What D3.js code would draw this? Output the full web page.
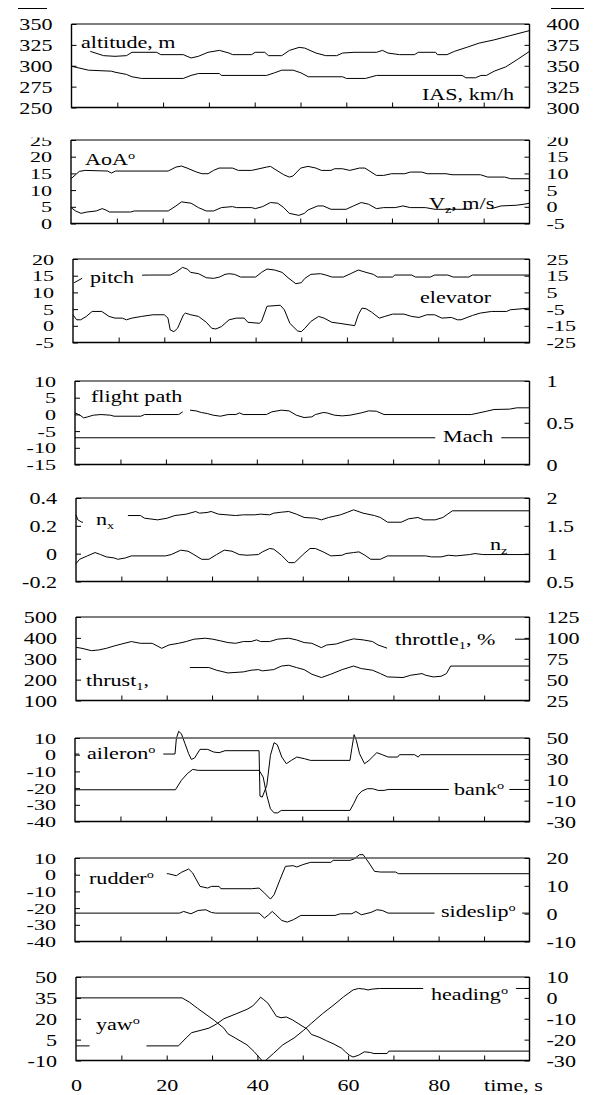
<!DOCTYPE html>
<html>
<head>
<meta charset="utf-8">
<script src="https://cdn.jsdelivr.net/npm/d3@7"></script>
<style>
  body { margin: 0; background: #fff; }
  svg { display: block; }
  text { font-family: "Liberation Serif", "Times New Roman", serif; fill: #000; }
</style>
</head>
<body>
<svg id="chart" width="594" height="1095"></svg>
<script>
// ---- time axis ----
const timeLabels = [0, 20, 40, 60, 80];
const timeMinor = [10, 20, 30, 40, 50, 60, 70, 80, 90];

// ---- axis tick values, per panel (left / right) ----
const altTicks = [250, 275, 300, 325, 350];
const iasTicks = [300, 325, 350, 375, 400];
const aoaTicks = [0, 5, 10, 15, 20, 25];
const vzTicks = [-5, 0, 5, 10, 15, 20];
const pitchTicks = [-5, 0, 5, 10, 15, 20];
const elevTicks = [-25, -15, -5, 5, 15, 25];
const pathTicks = [-15, -10, -5, 0, 5, 10];
const machTicks = [0, 0.5, 1];
const nxTicks = [-0.2, 0, 0.2, 0.4];
const nzTicks = [0.5, 1, 1.5, 2];
const thrustTicks = [100, 200, 300, 400, 500];
const throttleTicks = [25, 50, 75, 100, 125];
const aileronTicks = [-40, -30, -20, -10, 0, 10];
const bankTicks = [-30, -10, 10, 30, 50];
const rudderTicks = [-40, -30, -20, -10, 0, 10];
const sideslipTicks = [-10, 0, 10, 20];
const yawTicks = [-10, 5, 20, 35, 50];
const headingTicks = [-30, -20, -10, 0, 10];

// ---- recorded series: [time s, value] ----
const altitude = [[4.1,317.2],[7.0,312.1],[9.5,311.3],[12.0,312.1],[13.2,316.1],[18.6,316.1],[19.5,313.3],[24.4,313.3],[26.1,309.3],[27.7,311.3],[29.8,316.1],[32.3,318.4],[34.4,315.2],[35.2,313.3],[39.3,313.3],[40.1,316.1],[42.2,316.1],[43.0,312.1],[45.9,312.1],[47.6,318.4],[49.7,322.0],[50.9,321.2],[53.4,315.2],[55.5,312.1],[57.9,312.1],[59.2,315.2],[61.7,316.1],[66.6,316.1],[67.9,318.4],[69.1,315.2],[71.6,313.3],[74.9,313.3],[75.7,316.1],[79.5,316.1],[79.9,313.3],[82.0,313.3],[83.6,317.2],[86.5,322.4],[89.0,327.1],[92.3,331.0],[95.6,335.8],[100,342.1]];
const ias = [[0,349.4],[3.7,344.7],[8.7,343.5],[9.5,342.3],[12.0,339.6],[13.2,336.8],[15.3,334.8],[24.4,334.8],[26.1,338.4],[27.7,340.7],[32.3,340.7],[32.7,338.4],[42.6,338.4],[44.3,341.5],[45.9,344.7],[48.4,344.7],[50.1,341.5],[51.7,336.8],[59.2,336.8],[60.0,334.8],[64.2,334.8],[66.6,338.4],[85.3,338.4],[86.1,335.6],[88.2,335.6],[89.4,338.4],[90.6,338.4],[92.3,343.5],[94.8,348.6],[97.3,357.3],[100,367.2]];

const aoa = [[0,13.4],[1.0,14.6],[1.8,15.6],[3.1,15.9],[8.0,15.7],[8.8,15.1],[9.7,15.7],[21.2,15.7],[22.9,16.9],[24.1,17.2],[25.3,16.6],[27.4,15.4],[28.6,14.9],[29.9,14.9],[31.1,15.9],[32.3,16.6],[35.2,16.6],[36.5,15.9],[39.4,15.9],[42.7,16.9],[43.5,17.1],[44.3,16.4],[46.4,14.6],[47.6,13.9],[48.4,14.2],[50.1,16.6],[51.7,17.1],[53.4,16.6],[54.6,15.9],[56.7,15.9],[57.5,16.4],[59.2,16.4],[60.8,15.9],[62.9,16.6],[64.1,16.6],[66.6,14.4],[68.2,14.4],[69.9,14.9],[72.8,14.9],[74.0,15.4],[76.5,15.4],[77.7,14.9],[81.8,14.9],[83.1,14.6],[89.3,14.6],[90.9,13.9],[94.6,13.9],[95.9,13.4],[100,13.4]];
const vz = [[0,-0.24],[1.0,-1.25],[2.2,-1.96],[3.5,-1.56],[5.5,-1.25],[6.8,-0.55],[7.6,-0.95],[8.4,-1.56],[13.0,-1.56],[13.8,-1.25],[21.2,-1.25],[22.9,0.26],[24.1,1.48],[26.2,1.07],[27.8,-0.24],[29.5,-1.25],[31.1,-1.25],[32.8,-0.24],[35.2,0.06],[36.1,-0.24],[39.4,-0.24],[40.2,-0.55],[41.8,0.06],[43.5,1.28],[45.1,1.07],[46.4,-0.24],[47.6,-1.96],[49.7,-2.57],[50.9,-1.96],[51.7,-0.95],[53.8,0.26],[55.0,0.26],[56.7,-0.75],[60.0,-0.75],[61.6,0.26],[63.3,1.28],[64.9,0.77],[66.6,-0.55],[68.2,-0.24],[70.7,-0.24],[72.4,0.26],[74.0,-0.24],[77.3,-0.24],[79.4,-0.75],[87.2,-0.75],[89.5,null],[91.7,-0.55],[93.8,0.26],[97.1,0.46],[98.8,0.77],[100,1.07]];

const pitch = [[0.25,12.9],[2.9,14.9],[16.7,15.2],[21.3,15.2],[22.5,16.0],[24.0,17.5],[25.0,17.0],[25.8,16.0],[27.5,15.6],[29.2,14.4],[30.8,14.2],[32.1,14.6],[33.3,15.4],[34.2,15.6],[35.4,15.4],[36.7,14.6],[40.0,14.6],[41.3,16.0],[42.5,17.0],[44.2,16.7],[45.8,16.0],[47.1,14.4],[48.8,12.6],[50.0,12.9],[50.8,14.2],[52.1,15.4],[54.2,15.6],[55.4,15.2],[56.7,14.6],[59.2,14.6],[60.8,15.6],[62.5,16.7],[64.2,16.0],[65.8,15.4],[66.7,14.6],[70.0,14.6],[70.5,15.2],[74.2,15.2],[75.0,14.6],[78.3,14.6],[79.2,15.2],[82.1,15.2],[83.3,14.6],[86.7,14.6],[87.5,15.2],[100,15.2]];
const elevator = [[0,-8.4],[0.8,-11.4],[1.7,-11.4],[2.9,-9.4],[4.2,-6.4],[6.3,-6.4],[7.9,-9.4],[9.2,-10.4],[10.8,-10.4],[11.7,-11.4],[12.9,-10.4],[15.0,-9.4],[17.5,-8.4],[20.0,-8.4],[20.8,-10.4],[21.3,-17.5],[22.1,-18.5],[22.9,-16.5],[24.2,-8.4],[24.6,-7.4],[25.8,-8.4],[27.5,-9.4],[29.2,-12.9],[30.4,-16.5],[31.3,-16.9],[32.5,-15.5],[34.2,-11.4],[35.8,-10.4],[37.5,-10.4],[38.3,-12.9],[40.8,-13.5],[41.3,-12.4],[42.5,-3.3],[45.4,-2.7],[46.3,-5.4],[47.5,-13.5],[49.2,-18.1],[50.0,-18.5],[50.8,-16.5],[52.1,-12.4],[53.8,-9.4],[55.0,-10.4],[56.7,-12.9],[58.3,-13.5],[61.7,-14.9],[62.5,-8.4],[63.3,-4.4],[64.2,-4.8],[65.4,-6.8],[67.1,-10.4],[68.3,-9.4],[70.0,-8.0],[72.5,-8.0],[74.2,-9.4],[75.8,-10.0],[77.5,-8.4],[79.2,-8.4],[80.8,-10.4],[82.9,-10.0],[84.2,-11.4],[85.0,-11.4],[87.5,-8.8],[89.2,-7.4],[91.7,-6.4],[95.0,-6.4],[95.8,-5.4],[100,-4.4]];

const flightPath = [[0,0.46],[1.1,-0.24],[1.9,-1.04],[2.8,-0.74],[4.0,-0.24],[5.7,-0.04],[7.8,-0.24],[8.6,-0.54],[14.5,-0.54],[15.3,-0.04],[22.8,-0.04],[23.7,0.76],[24.5,null],[25.3,1.27],[26.6,1.06],[27.8,0.56],[29.1,0.26],[30.4,-0.24],[32.0,-0.54],[33.7,-0.04],[35.4,-0.04],[36.2,0.46],[37.0,-0.04],[42.1,-0.04],[43.3,0.76],[45.4,1.27],[47.1,1.06],[48.7,-0.24],[50.4,-0.94],[52.1,-0.74],[52.9,-0.04],[54.6,0.56],[55.4,0.46],[57.1,-0.24],[58.8,-0.44],[60.5,-0.24],[63.0,0.46],[64.6,1.06],[66.3,0.96],[68.0,-0.04],[87.2,-0.04],[88.9,0.46],[90.6,0.96],[92.2,1.47],[95.6,1.57],[97.2,1.97],[100,1.97]];
const mach = [[0,0.32],[100,0.32]];

const nx = [[0,0.279],[0.4,0.243],[1.3,0.226],[2.9,0.226],[10.1,0.260],[10.9,0.274],[14.2,0.274],[15.1,0.255],[18.0,0.243],[20.1,0.255],[21.8,0.274],[24.3,0.284],[26.4,0.303],[27.2,0.291],[28.9,0.296],[29.8,0.303],[31.4,0.284],[35.2,0.274],[36.9,0.279],[39.4,0.279],[40.7,0.284],[42.7,0.279],[43.6,0.291],[45.3,0.298],[46.9,0.303],[48.6,0.284],[50.3,0.260],[52.8,0.255],[54.1,0.243],[55.7,0.260],[58.3,0.279],[59.9,0.298],[61.2,0.315],[63.3,0.291],[65.8,0.274],[67.1,0.260],[68.7,0.226],[71.7,0.226],[73.3,0.250],[75.4,0.260],[76.7,0.243],[79.2,0.243],[80.9,0.260],[83.0,0.308],[100,0.308]];
const nz = [[0,0.821],[0.8,0.899],[2.5,0.960],[4.2,1.020],[5.4,0.984],[6.7,0.942],[8.4,0.923],[9.2,0.899],[10.9,0.923],[12.2,0.960],[19.7,0.960],[21.0,0.984],[23.1,1.063],[24.7,1.044],[26.0,0.984],[27.7,0.899],[29.3,0.899],[31.0,0.984],[32.7,1.063],[34.4,1.044],[36.0,0.984],[37.7,0.972],[40.2,0.984],[41.1,1.032],[42.7,1.093],[43.6,1.081],[45.3,0.972],[46.9,0.839],[48.2,0.839],[50.3,1.002],[51.6,1.093],[52.8,1.093],[54.5,1.032],[56.2,0.960],[58.7,0.972],[59.5,1.002],[61.2,1.020],[62.4,1.032],[63.7,0.972],[65.0,0.899],[67.1,0.899],[68.7,0.960],[77.1,0.960],[78.4,0.942],[80.5,0.942],[82.1,0.972],[83.8,0.960],[86.8,0.984],[88.0,1.002],[89.7,0.984],[100,0.984]];

const throttle = [[0,88.7],[1.3,87.5],[3.4,84.7],[5.0,85.5],[6.7,87.5],[8.4,90.3],[10.1,92.7],[12.2,95.6],[14.2,93.5],[16.8,93.5],[18.9,87.5],[20.5,91.5],[22.6,93.5],[24.3,95.6],[26.0,98.4],[28.5,99.6],[30.2,98.4],[31.9,96.4],[33.5,94.4],[35.2,93.5],[36.9,95.6],[38.6,95.6],[39.8,97.6],[40.7,95.6],[42.7,95.6],[44.4,98.4],[46.9,99.6],[48.6,97.6],[50.3,94.4],[52.0,93.5],[54.1,88.3],[55.3,91.5],[57.4,92.7],[59.5,96.4],[61.2,98.8],[63.3,97.6],[65.4,95.6],[66.6,91.5],[68.7,87.5],[80,null],[96.8,98.4],[100,98.4]];
const thrust = [[25.1,258],[29.3,258],[31.0,245],[33.5,232],[36.9,237],[38.6,245],[40.2,248],[41.1,242],[43.6,248],[45.3,265],[46.9,269],[48.6,258],[50.3,248],[52.0,226],[54.1,210],[56.2,226],[58.7,248],[61.2,265],[62.9,253],[65.4,245],[67.1,229],[68.7,213],[72.1,210],[73.8,221],[75.4,226],[76.3,229],[77.1,221],[78.8,213],[80.5,216],[81.7,229],[82.6,265],[100,265]];

const aileron = [[0,0.4],[22.0,0.4],[22.3,9.6],[22.8,14.0],[23.4,12.6],[24.2,6.6],[25.0,0.6],[25.6,-2.8],[26.3,-2.0],[27.5,3.2],[29.2,3.2],[30.5,1.6],[31.7,1.2],[33.0,2.4],[40.5,2.4],[40.7,-24.8],[41.2,-25.4],[42.2,-18.4],[43.0,-0.4],[43.8,7.2],[44.5,6.0],[45.5,-1.4],[46.5,-5.4],[47.6,-3.4],[48.8,-1.4],[50.5,-2.4],[51.8,-3.4],[60.5,-3.4],[60.9,3.6],[61.4,12.0],[61.9,8.6],[62.6,0.6],[63.7,-5.4],[64.7,-3.4],[66.4,1.2],[67.6,0.0],[68.9,-1.4],[71.0,-1.4],[71.4,0.0],[74.7,0.0],[75.5,-1.4],[76.0,0.0],[100,0.0]];
const bank = [[0,0.4],[22.1,0.4],[23.4,9.4],[24.7,15.8],[25.9,19.9],[27.1,19.0],[40.5,19.0],[41.4,12.6],[42.2,-5.0],[43.0,-17.8],[43.8,-21.7],[44.6,-21.7],[45.4,-19.4],[60.5,-19.4],[61.3,-13.0],[62.2,-5.0],[63.1,-0.9],[64.3,1.4],[65.5,1.4],[66.7,-0.2],[68.0,-0.2],[68.9,0.7],[100,0.7]];

const rudder = [[0,0.6],[20.5,0.6],[22.3,-0.6],[23.4,1.4],[25.0,3.4],[25.9,1.0],[27.5,-7.0],[29.2,-8.0],[30.0,-7.0],[31.7,-7.0],[32.1,-8.4],[38.8,-8.4],[40.5,-8.0],[41.7,-11.0],[43.0,-14.6],[43.8,-12.0],[45.1,-3.0],[46.3,5.0],[48.0,5.4],[48.8,4.6],[50.1,6.0],[51.8,7.4],[56.3,7.4],[56.8,8.6],[60.5,8.6],[61.4,9.4],[62.6,12.0],[63.4,12.0],[64.7,7.0],[65.9,2.0],[67.2,1.6],[70.5,1.6],[71.2,0.6],[100,0.6]];
const sideslip = [[0,0.2],[23.0,0.2],[23.9,0.8],[25.5,-0.04],[27.1,1.16],[28.8,1.4],[30.0,0.44],[30.9,0.2],[40.5,0.2],[41.7,-1.6],[42.6,-0.4],[43.4,0.8],[44.2,-0.4],[45.5,-2.44],[46.7,-3.04],[48.0,-2.2],[49.7,-0.64],[57.2,-0.64],[58.4,-0.04],[60.9,-0.04],[61.8,0.8],[63.0,-0.4],[65.1,0.44],[66.4,1.4],[67.6,1.16],[68.9,0.2],[100,0.2]];

const yaw = [[0,0.5],[22.6,0.5],[23.4,3.25],[24.3,6.25],[25.5,10.0],[27.6,11.75],[29.3,13.25],[31.0,16.25],[32.6,20.0],[35.1,23.25],[37.7,26.75],[39.0,29.25],[40.2,33.5],[40.7,35.5],[41.3,34.0],[42.3,31.25],[43.2,26.75],[44.2,21.75],[45.2,20.75],[46.4,21.25],[47.7,19.25],[49.4,15.75],[51.0,12.5],[51.9,8.75],[53.6,6.75],[55.2,4.25],[56.9,1.75],[58.6,-1.25],[59.4,-3.75],[60.3,-6.25],[61.1,-7.5],[62.3,-6.25],[63.6,-3.75],[64.9,-4.25],[65.7,-5.0],[68.6,-5.0],[69.0,-3.25],[100,-3.25]];
const heading = [[0,0],[23.4,0],[25.1,-2.2],[26.8,-5.0],[28.9,-8.3],[30.5,-10.8],[32.6,-14.5],[33.5,-17.2],[35.1,-19.2],[37.7,-22.5],[39.3,-25.8],[41.0,-30],[41.8,-30],[43.5,-26.7],[45.6,-22.5],[48.1,-19.2],[50.2,-15.5],[51.9,-12.2],[54.4,-7.5],[56.9,-3.3],[59.0,0.5],[61.1,3.8],[62.3,4.5],[63.6,4.2],[64.4,3.8],[65.3,4.2],[66.9,4.5],[100,4.5]];

// ---- page layout ----
const RIGHT = 529.5;
const PANEL_H = 83.5;
const FONT = 17;   // serif face, stretched horizontally
const SX = 1.3;

const panels = [
  { left: 71.5, top: 24,
    L: { domain: [250, 350], ticks: altTicks }, R: { domain: [300, 400], ticks: iasTicks },
    series: [[altitude, 'L'], [ias, 'R']],
    names: [
      { parts: [['altitude, m']], x: 81, y: 48 },
      { parts: [['IAS, km/h']], x: 422, y: 100 }
    ] },
  { left: 71, top: 140, clipTop: 137.5,
    L: { domain: [0, 25], ticks: aoaTicks }, R: { domain: [-5, 20], ticks: vzTicks },
    series: [[aoa, 'L'], [vz, 'R']],
    names: [
      { parts: [['AoA'], ['o', 'sup']], x: 85, y: 165 },
      { parts: [['V'], ['z', 'sub'], [', m/s']], x: 429, y: 209 }
    ] },
  { left: 73, top: 259,
    L: { domain: [-5, 20], ticks: pitchTicks }, R: { domain: [-25, 25], ticks: elevTicks },
    series: [[pitch, 'L'], [elevator, 'R']],
    names: [
      { parts: [['pitch']], x: 90, y: 283, box: [6, 2, 2] },
      { parts: [['elevator']], x: 420, y: 303 }
    ] },
  { left: 75, top: 381,
    L: { domain: [-15, 10], ticks: pathTicks }, R: { domain: [0, 1], ticks: machTicks },
    series: [[flightPath, 'L'], [mach, 'R']],
    names: [
      { parts: [['flight path']], x: 91, y: 402 },
      { parts: [['Mach']], x: 443, y: 442, box: [6, 2, 2] }
    ] },
  { left: 76, top: 498,
    L: { domain: [-0.2, 0.4], ticks: nxTicks }, R: { domain: [0.5, 2], ticks: nzTicks },
    series: [[nx, 'L'], [nz, 'R']],
    names: [
      { parts: [['n'], ['x', 'sub']], x: 96, y: 525, box: [10, 2, 2] },
      { parts: [['n'], ['z', 'sub']], x: 490, y: 550 }
    ] },
  { left: 76, top: 617,
    L: { domain: [100, 500], ticks: thrustTicks }, R: { domain: [25, 125], ticks: throttleTicks },
    series: [[throttle, 'R'], [thrust, 'L']],
    names: [
      { parts: [['throttle'], ['1', 'sub'], [', %']], x: 395, y: 645, box: [6, 2, 1] },
      { parts: [['thrust'], ['1', 'sub'], [',']], x: 86, y: 686 }
    ] },
  { left: 75, top: 738,
    L: { domain: [-40, 10], ticks: aileronTicks }, R: { domain: [-30, 50], ticks: bankTicks },
    series: [[aileron, 'L'], [bank, 'R']],
    names: [
      { parts: [['aileron'], ['o', 'sup']], x: 87, y: 759, box: [6, 2, 2] },
      { parts: [['bank'], ['o', 'sup']], x: 454, y: 795, box: [4, 2, 2] }
    ] },
  { left: 75, top: 858,
    L: { domain: [-40, 10], ticks: rudderTicks }, R: { domain: [-10, 20], ticks: sideslipTicks },
    series: [[rudder, 'L'], [sideslip, 'R']],
    names: [
      { parts: [['rudder'], ['o', 'sup']], x: 89, y: 884, box: [10, 2, 2] },
      { parts: [['sideslip'], ['o', 'sup']], x: 441, y: 917, box: [5, 2, 2] }
    ] },
  { left: 76, top: 977,
    L: { domain: [-10, 50], ticks: yawTicks }, R: { domain: [-30, 10], ticks: headingTicks },
    series: [[yaw, 'L'], [heading, 'R']],
    names: [
      { parts: [['yaw'], ['o', 'sup']], x: 96, y: 1030, box: [5, 2, 18] },
      { parts: [['heading'], ['o', 'sup']], x: 431, y: 1000, box: [6, 2, 2] }
    ] }
];

const svg = d3.select('#chart');

// short rules above the first panel's scales
svg.append('line').attr('x1', 18).attr('x2', 47).attr('y1', 8.5).attr('y2', 8.5).attr('stroke', '#000');
svg.append('line').attr('x1', 551).attr('x2', 584).attr('y1', 8.5).attr('y2', 8.5).attr('stroke', '#000');

// tick labels: tightly packed scales get a slightly smaller face, widened to the same digit width
function stretchTickText(axisG, dx, anchor, nTicks) {
  const step = PANEL_H / (nTicks - 1);
  const fs = Math.min(FONT, step / 1.12);
  const sx = SX * FONT / fs;
  axisG.attr('font-size', null).attr('font-family', null);
  axisG.select('.domain').remove();
  axisG.selectAll('.tick line').attr('stroke', '#000').attr('stroke-width', 1);
  axisG.selectAll('.tick text')
    .attr('x', null).attr('dy', '0.34em')
    .attr('font-size', fs)
    .attr('text-anchor', anchor)
    .attr('transform', `translate(${dx},0) scale(${sx},1)`);
}

function drawName(g, n) {
  const grp = g.append('g').attr('transform', `translate(${n.x},${n.y}) scale(${SX},1)`);
  const rect = n.box ? grp.append('rect').attr('fill', '#fff') : null;
  const t = grp.append('text').attr('font-size', FONT);
  let shift = 0;
  n.parts.forEach(([s, kind]) => {
    const ts = t.append('tspan').text(s);
    if (kind === 'sup') { ts.attr('font-size', 11).attr('dy', -6 - shift); shift = -6; }
    else if (kind === 'sub') { ts.attr('font-size', 11).attr('dy', 4 - shift); shift = 4; }
    else if (shift) { ts.attr('dy', -shift); shift = 0; }
  });
  if (rect) {
    const b = t.node().getBBox();
    const [px, pt, pb] = n.box;
    rect.attr('x', b.x - px).attr('y', b.y - pt)
      .attr('width', b.width + 2 * px).attr('height', b.height + pt + pb);
  }
}

panels.forEach((p, i) => {
  const g = svg.append('g');
  if (p.clipTop) {
    svg.append('clipPath').attr('id', 'clip' + i)
      .append('rect').attr('x', 0).attr('y', p.clipTop).attr('width', 594).attr('height', 200);
    g.attr('clip-path', `url(#clip${i})`);
  }
  const bottom = p.top + PANEL_H;
  const x = d3.scaleLinear([0, 100], [p.left, RIGHT]);
  const yL = d3.scaleLinear(p.L.domain, [bottom, p.top]);
  const yR = d3.scaleLinear(p.R.domain, [bottom, p.top]);

  // data traces
  p.series.forEach(([data, side]) => {
    const y = side === 'L' ? yL : yR;
    const line = d3.line()
      .defined(d => d[1] !== null)
      .x(d => x(d[0])).y(d => y(d[1]));
    g.append('path').attr('d', line(data))
      .attr('fill', 'none').attr('stroke', '#000').attr('stroke-width', 1)
      .attr('stroke-linejoin', 'round');
  });

  // series names (boxed ones mask the trace behind them)
  p.names.forEach(n => drawName(g, n));

  // frame: top edge a little lighter than the others
  g.append('path')
    .attr('d', `M${p.left},${p.top}V${bottom}H${RIGHT}V${p.top}`)
    .attr('fill', 'none').attr('stroke', '#000').attr('stroke-width', 1.4);
  g.append('line').attr('x1', p.left).attr('x2', RIGHT).attr('y1', p.top).attr('y2', p.top)
    .attr('stroke', '#555').attr('stroke-width', 1.5);

  // left scale, ticks pointing inward
  const aL = g.append('g').attr('transform', `translate(${p.left},0)`)
    .call(d3.axisLeft(yL).tickValues(p.L.ticks).tickSize(-5).tickSizeOuter(0).tickFormat(d => String(d)));
  stretchTickText(aL, -19, 'end', p.L.ticks.length);

  // right scale
  const aR = g.append('g').attr('transform', `translate(${RIGHT},0)`)
    .call(d3.axisRight(yR).tickValues(p.R.ticks).tickSize(-5).tickSizeOuter(0).tickFormat(d => String(d)));
  stretchTickText(aR, 17, 'start', p.R.ticks.length);

  // time ticks along the bottom edge
  const aB = g.append('g').attr('transform', `translate(0,${bottom})`)
    .call(d3.axisBottom(x).tickValues(timeMinor).tickSize(-5).tickSizeOuter(0).tickFormat(''));
  aB.select('.domain').remove();
  aB.selectAll('.tick line').attr('stroke', '#000');

  if (i === panels.length - 1) {
    const aT = g.append('g').attr('transform', `translate(0,${bottom})`)
      .call(d3.axisBottom(x).tickValues(timeLabels).tickSize(0).tickFormat(d => String(d)));
    aT.attr('font-size', null).attr('font-family', null);
    aT.select('.domain').remove();
    aT.selectAll('.tick text').attr('y', null).attr('dy', null)
      .attr('font-size', FONT).attr('text-anchor', 'middle')
      .attr('transform', `translate(0,30.5) scale(${SX},1)`);
    g.append('text').attr('font-size', FONT)
      .attr('transform', `translate(484,${bottom + 30.5}) scale(${SX},1)`)
      .text('time, s');
  }
});
</script>
</body>
</html>
